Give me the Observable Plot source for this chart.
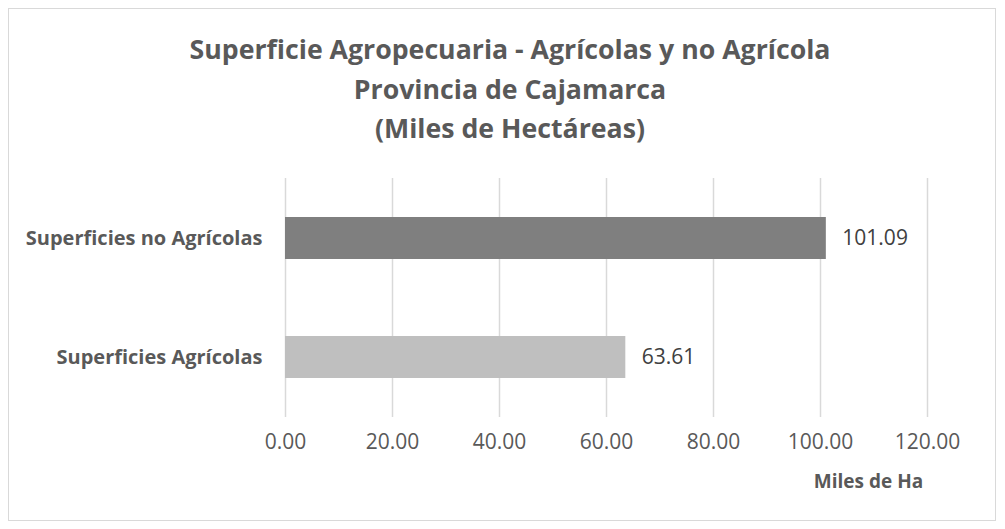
<!DOCTYPE html>
<html>
<head>
<meta charset="utf-8">
<script src="https://cdn.jsdelivr.net/npm/d3@7"></script>
<script src="https://cdn.jsdelivr.net/npm/@observablehq/plot@0.6"></script>
<style>
  html, body { margin: 0; padding: 0; background: #fff; }
  #frame {
    position: absolute; left: 8px; top: 8px; width: 986px; height: 511px;
    border: 1px solid #d9d9d9; background: #fff; overflow: hidden;
  }
  #title {
    margin-top: 20px; height: 119px; padding-left: 16px;
    font-family: "Open Sans", sans-serif; font-weight: bold; font-size: 26.7px;
    line-height: 39.5px; color: #595959; text-align: center;
  }
  #chart svg { display: block; }
</style>
</head>
<body>
<div id="frame">
  <div id="title">Superficie Agropecuaria - Agrícolas y no Agrícola<br>Provincia de Cajamarca<br>(Miles de Hectáreas)</div>
  <div id="chart"></div>
</div>
<script>
const categories = ["Superficies no Agrícolas", "Superficies Agrícolas"];
const values = [101.09, 63.61];
const barColors = ["#7f7f7f", "#bfbfbf"];
const xTicks = [0, 20, 40, 60, 80, 100, 120];
const xLabel = "Miles de Ha";

const data = categories.map((c, i) => ({category: c, value: values[i]}));
const fmt = d3.format(".2f");

const chart = Plot.plot({
  width: 986,
  height: 371,
  marginTop: 30,
  marginBottom: 102,
  marginLeft: 276,
  marginRight: 68,
  style: {fontFamily: "'Open Sans', sans-serif", background: "#fff"},
  x: {domain: [0, 120], axis: null},
  y: {domain: categories, paddingInner: 0.65, paddingOuter: 0.325, axis: null},
  color: {domain: categories, range: barColors},
  marks: [
    Plot.gridX(xTicks, {stroke: "#d9d9d9", strokeOpacity: 1, strokeWidth: 1.5}),
    Plot.barX(data, {x: "value", y: "category", fill: "category"}),
    Plot.text(data, {x: "value", y: "category", text: d => fmt(d.value), dx: 16, textAnchor: "start", fill: "#404040", fontSize: 21}),
    Plot.text(categories, {y: d => d, frameAnchor: "left", dx: -23, textAnchor: "end", fill: "#595959", fontSize: 20, fontWeight: "bold"}),
    Plot.text(xTicks, {x: d => d, frameAnchor: "bottom", dy: 31, text: d => fmt(d), fill: "#595959", fontSize: 21}),
    Plot.text([xLabel], {frameAnchor: "bottom-right", dx: -59, dy: 70, textAnchor: "middle", fill: "#595959", fontSize: 19, fontWeight: "bold"})
  ]
});
document.getElementById("chart").appendChild(chart);
</script>
</body>
</html>
